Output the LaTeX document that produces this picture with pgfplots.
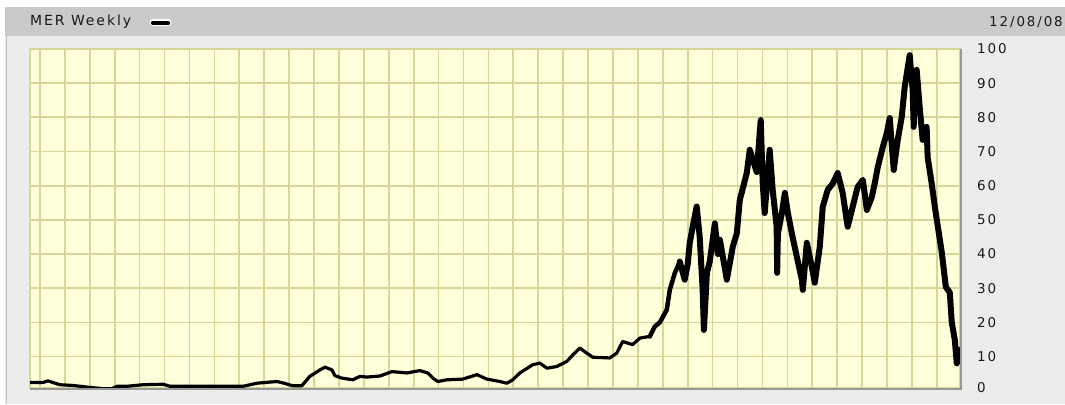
\documentclass[border=0pt]{standalone}
\usepackage{fontspec}
\setmainfont{DejaVu Sans}[LetterSpace=14]
\usepackage{pgfplots}
\usepackage{pgfplotstable}
\pgfplotsset{compat=1.18}
\definecolor{outerbg}{RGB}{236,236,236}
\definecolor{hdr}{RGB}{202,202,202}
\definecolor{plotbg}{RGB}{255,255,218}
\definecolor{gridc}{RGB}{214,214,152}
\definecolor{shadow}{RGB}{150,150,150}
\definecolor{txt}{RGB}{25,25,25}

\pgfplotstableread{
year price
1971.60 2.4
1972.12 2.4
1972.32 2.9
1972.52 2.4
1972.80 1.75
1973.32 1.55
1973.61 1.3
1974.10 0.9
1974.53 0.6
1974.89 0.6
1975.09 1.3
1975.49 1.3
1976.13 1.75
1976.94 1.9
1977.22 1.3
1978.54 1.3
1979.62 1.3
1980.15 1.3
1980.71 2.2
1981.51 2.7
1981.80 2.2
1982.15 1.45
1982.51 1.45
1982.83 4.2
1983.24 6.1
1983.44 6.9
1983.72 6.1
1983.84 4.4
1984.12 3.7
1984.56 3.2
1984.84 4.2
1985.12 4.0
1985.64 4.3
1986.13 5.6
1986.73 5.2
1987.25 5.9
1987.57 5.2
1987.77 3.7
1987.97 2.7
1988.33 3.2
1988.97 3.4
1989.54 4.7
1989.94 3.4
1990.46 2.7
1990.74 2.2
1990.98 3.2
1991.26 5.2
1991.78 7.6
1992.06 8.1
1992.35 6.6
1992.75 7.1
1993.15 8.6
1993.39 10.5
1993.67 12.5
1993.95 11.0
1994.19 9.8
1994.87 9.6
1995.15 11.0
1995.39 14.4
1995.79 13.5
1996.08 15.4
1996.48 15.9
1996.68 18.8
1996.88 20.0
1997.16 23.7
1997.28 29.5
1997.48 34.4
1997.68 37.8
1997.88 32.5
1998.00 37.0
1998.08 43.2
1998.20 48.0
1998.36 53.9
1998.48 45.1
1998.60 29.5
1998.65 17.8
1998.77 34.5
1998.89 38.0
1999.09 49.0
1999.21 40.0
1999.29 44.2
1999.57 32.5
1999.81 42.2
1999.97 46.0
2000.09 55.8
2000.37 63.7
2000.49 70.5
2000.77 64.0
2000.93 79.2
2001.01 60.8
2001.09 52.0
2001.29 70.5
2001.41 58.8
2001.57 48.0
2001.59 34.5
2001.62 46.0
2001.78 52.0
2001.90 57.9
2002.02 52.0
2002.18 46.0
2002.38 39.2
2002.58 32.5
2002.62 29.5
2002.78 43.3
2002.98 36.3
2003.10 31.6
2003.30 42.1
2003.42 53.8
2003.62 58.8
2003.82 60.6
2004.02 63.7
2004.22 57.9
2004.42 48.0
2004.62 53.8
2004.82 59.6
2005.03 61.7
2005.19 52.9
2005.39 56.7
2005.51 60.8
2005.63 65.5
2005.83 71.3
2005.99 75.4
2006.11 79.8
2006.19 72.0
2006.27 64.6
2006.43 73.4
2006.59 80.1
2006.71 88.9
2006.91 98.2
2007.03 88.0
2007.07 77.2
2007.12 90.0
2007.19 93.9
2007.31 83.0
2007.43 73.4
2007.59 77.2
2007.63 68.4
2007.79 60.8
2007.92 53.8
2008.04 48.0
2008.20 40.4
2008.36 30.4
2008.52 28.7
2008.60 19.9
2008.72 14.9
2008.80 8.0
2008.86 12.0
}\merdata

\begin{document}
\begin{tikzpicture}[x=1bp,y=1bp]
\useasboundingbox (0,0) rectangle (1065,404);
\fill[outerbg] (0,0) rectangle (1065,404);
\fill[white] (0,397) rectangle (1065,404);
\fill[white] (0,0) rectangle (5,404);
\fill[hdr] (5,368) rectangle (1065,397);
\draw[shadow!60, line width=1bp] (6.5,0) -- (6.5,368);
\node[anchor=west, inner sep=0pt, text=txt, font=\fontsize{14}{16}\selectfont] at (30,382) {MER Weekly};
\draw[white, line width=7bp, line cap=round] (153,381) -- (168,381);
\draw[black, line width=4.5bp, line cap=round] (153,381) -- (168,381);
\node[anchor=east, inner sep=0pt, text=txt, font=\fontsize{13.5}{15}\selectfont] at (1063,382) {12/08/08};
\begin{axis}[
  at={(30bp,16bp)}, anchor=south west,
  scale only axis, width=930bp, height=339bp,
  xmin=1971.6, xmax=2008.93, ymin=0.8, ymax=100,
  axis background/.style={fill=plotbg},
  axis line style={draw=gridc, line width=1.5bp},
  xtick={1972,1973,...,2008}, xticklabels={},
  ytick={10,20,...,100},
  extra y ticks={0.8}, extra y tick labels={0},
  extra y tick style={grid=none},
  grid=major,
  grid style={draw=gridc, line width=1.7bp},
  major tick length=0pt,
  yticklabel pos=right,
  y tick label style={anchor=west, inner sep=0pt, xshift=17bp, text=txt, font=\fontsize{13.5}{15}\selectfont},
  /pgf/number format/assume math mode=true,
  clip=true,
]
\addplot[black, line width=3.2bp, line join=round, line cap=round] table[x=year, y=price] {\merdata};
\addplot[black, line width=4.5bp, line join=round, line cap=round, restrict x to domain=1996.4:2009] table[x=year, y=price] {\merdata};
\addplot[black, line width=6bp, line join=round, line cap=round, restrict x to domain=1997.6:2009] table[x=year, y=price] {\merdata};
\end{axis}
\draw[shadow, line width=2bp] (30,15) -- (961,15) -- (961,355);
\end{tikzpicture}
\end{document}
